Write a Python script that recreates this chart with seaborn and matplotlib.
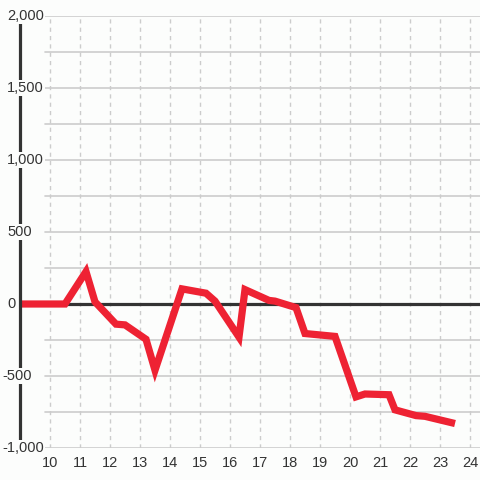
import numpy as np
import pandas as pd
import seaborn as sns
import matplotlib.pyplot as plt

# hour of day vs. value
hours = [9, 10.5, 11.2, 11.5, 12.2, 12.5, 13.2, 13.5, 14.4, 15.2, 15.5, 16.3, 16.5,
         17.3, 17.5, 18.2, 18.5, 19.5, 20.2, 20.5, 21.3, 21.5, 22.2, 22.5, 23.5]
values = [0, 0, 225, 15, -140, -145, -245, -460, 105, 75, 20, -230, 100,
          25, 20, -25, -205, -225, -645, -625, -630, -735, -775, -780, -830]
x_ticks = list(range(10, 25))
y_ticks = [-1000, -500, 0, 500, 1000, 1500, 2000]
y_minor = [-750, -250, 250, 750, 1250, 1750]

df = pd.DataFrame({'hour': hours, 'value': values})

bg = '#fcfdfc'
sns.set_style('white')
plt.rcParams['font.family'] = ['Liberation Sans', 'DejaVu Sans']

fig = plt.figure(figsize=(4.8, 4.8), dpi=100, facecolor=bg)
ax = fig.add_axes([20 / 480, 32 / 480, 460 / 480, 432 / 480])
ax.set_facecolor(bg)

ax.set_xlim(9, 9 + 460 / 30)
ax.set_ylim(-1000, 2000)

# grid
gx0 = 25 / 460
for y in y_ticks + y_minor:
    if y != 0:
        ax.axhline(y, xmin=gx0, color='#cccccc', lw=1.2, zorder=1)
for x in x_ticks:
    ax.axvline(x, color='#cccccc', lw=1, ls=(0, (3, 3)), zorder=1)

ax.axhline(0, color='#333333', lw=2.3, zorder=2)

sns.lineplot(data=df, x='hour', y='value', sort=False, ax=ax, color='#ee2233',
             lw=5.2, zorder=3)
for l in ax.lines[-1:]:
    l.set_solid_joinstyle('miter')
    l.set_solid_capstyle('butt')

for s in ['top', 'right', 'bottom']:
    ax.spines[s].set_visible(False)
ax.spines['left'].set_color('#333333')
ax.spines['left'].set_linewidth(2.3)
ax.spines['left'].set_zorder(4)

ax.set_xticks(x_ticks)
ax.set_xticklabels([str(x) for x in x_ticks])
ax.tick_params(axis='x', length=0, pad=6, labelsize=10.5, labelcolor='#333333')
ax.set_yticks([])
ax.set_xlabel('')
ax.set_ylabel('')

for y in y_ticks:
    px = 2 if y < 0 else 7
    ax.text(px / 460 - 20 / 460, y, f'{y:,}', transform=ax.get_yaxis_transform(),
            ha='left', va='center', fontsize=10.5, color='#333333', zorder=5,
            bbox=dict(facecolor=bg, edgecolor='none', pad=1), clip_on=False)

plt.savefig('out.png', dpi=100, facecolor=bg)
